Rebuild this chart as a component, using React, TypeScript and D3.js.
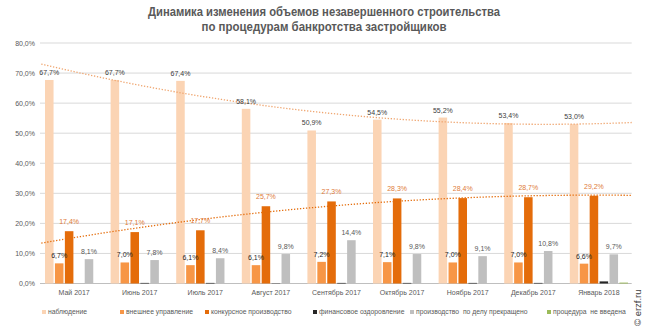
import React from 'react';
import * as d3 from 'd3';

const categories = ['Май 2017', 'Июнь 2017', 'Июль 2017', 'Август 2017', 'Сентябрь 2017', 'Октябрь 2017', 'Ноябрь 2017', 'Декабрь 2017', 'Январь 2018'];
const seriesNames = ['наблюдение', 'внешнее управление', 'конкурсное производство', 'финансовое оздоровление', 'производство  по делу прекращено', 'процедура  не введена'];
const nablyudenie = [67.7, 67.7, 67.4, 58.1, 50.9, 54.5, 55.2, 53.4, 53.0];
const vneshnee = [6.7, 7.0, 6.1, 6.1, 7.2, 7.1, 7.0, 7.0, 6.6];
const konkursnoe = [17.4, 17.1, 17.7, 25.7, 27.3, 28.3, 28.4, 28.7, 29.2];
const finansovoe = [0, 0.2, 0.2, 0.1, 0.2, 0.2, 0.2, 0.2, 0.7];
const prekrascheno = [8.1, 7.8, 8.4, 9.8, 14.4, 9.8, 9.1, 10.8, 9.7];
const neVvedena = [0, 0, 0, 0, 0, 0, 0, 0, 0.3];
const yTicks = [0, 10, 20, 30, 40, 50, 60, 70, 80];

const colors = ['#FBD4B4', '#F79646', '#E46C0A', '#262626', '#BFBFBF', '#9BBB59'];
const labelColors = ['#404040', '#262626', '#E07B39', null, '#595959', null];
const labelGap = [5, 5, 7, 0, 5, 0];
const legendX = [42, 120, 205, 313, 410, 547];

const W = 647, H = 332;
const FONT = '"Liberation Sans", Arial, sans-serif';

function quadFit(ys: number[]) {
  const n = ys.length;
  const xs = ys.map((_, i) => i);
  const s = (f: (x: number, y: number) => number) => d3.sum(xs, (x, i) => f(x, ys[i]));
  const S0 = n, S1 = s(x => x), S2 = s(x => x * x), S3 = s(x => x ** 3), S4 = s(x => x ** 4);
  const T0 = s((x, y) => y), T1 = s((x, y) => x * y), T2 = s((x, y) => x * x * y);
  const det = (m: number[][]) =>
    m[0][0] * (m[1][1] * m[2][2] - m[1][2] * m[2][1]) -
    m[0][1] * (m[1][0] * m[2][2] - m[1][2] * m[2][0]) +
    m[0][2] * (m[1][0] * m[2][1] - m[1][1] * m[2][0]);
  const M = [[S0, S1, S2], [S1, S2, S3], [S2, S3, S4]];
  const T = [T0, T1, T2];
  const D = det(M);
  const rep = (col: number) => M.map((r, i) => r.map((v, j) => (j === col ? T[i] : v)));
  const a = det(rep(0)) / D, b = det(rep(1)) / D, c = det(rep(2)) / D;
  return (x: number) => a + b * x + c * x * x;
}

export default function App() {
  const series = [nablyudenie, vneshnee, konkursnoe, finansovoe, prekrascheno, neVvedena];
  const x0 = d3.scaleBand<string>().domain(categories).range([41.3, 631.7]).paddingInner(0.113).paddingOuter(0.0565);
  const x1 = d3.scaleBand<number>().domain(d3.range(6)).range([0, x0.bandwidth()]).paddingInner(0.14);
  const y = d3.scaleLinear().domain([0, 80]).range([283.5, 43]);
  const fmt = (v: number) => v.toFixed(1).replace('.', ',') + '%';
  const center = (i: number) => x0(categories[0])! + x0.bandwidth() / 2 + i * x0.step();

  const trendPts = d3.range(-0.5, 8.5001, 0.05);
  const line = d3.line<[number, number]>().x(d => d[0]).y(d => d[1]);
  const fitA = quadFit(nablyudenie);
  const fitB = quadFit(konkursnoe);
  const pathA = line(trendPts.map(t => [center(t), y(fitA(t))]));
  const pathB = line(trendPts.map(t => [center(t), y(fitB(t))]));

  return (
    <svg width={W} height={H} style={{ position: 'absolute', left: 0, top: 0, background: '#fff' }} fontFamily={FONT}>
      <rect width={W} height={H} fill="#fff" />
      <text x={324} y={16} textAnchor="middle" fontSize={12} fontWeight="bold" fill="#595959" textLength={352} lengthAdjust="spacingAndGlyphs">Динамика изменения объемов незавершенного строительства</text>
      <text x={324} y={31} textAnchor="middle" fontSize={12} fontWeight="bold" fill="#595959" textLength={245} lengthAdjust="spacingAndGlyphs">по процедурам банкротства застройщиков</text>

      {yTicks.map(t => (
        <g key={t}>
          <line x1={40} x2={631.7} y1={y(t)} y2={y(t)} stroke={t === 0 ? '#BFBFBF' : '#D9D9D9'} strokeWidth={1} />
          <text x={35} y={y(t) + 2.5} textAnchor="end" fontSize={7} fill="#595959">{fmt(t)}</text>
        </g>
      ))}

      {categories.map((c, ci) => (
        <g key={c} transform={`translate(${x0(c)},0)`}>
          {series.map((s, si) => (
            <rect key={si} x={x1(si)} width={x1.bandwidth()} y={y(s[ci])} height={y(0) - y(s[ci])} fill={colors[si]} />
          ))}
          <text x={x0.bandwidth() / 2} y={295} textAnchor="middle" fontSize={7} fill="#595959">{c}</text>
        </g>
      ))}

      <path d={pathA!} fill="none" stroke="#EFA56F" strokeWidth={1.3} strokeDasharray="1.3,1.7" />
      <path d={pathB!} fill="none" stroke="#E46C0A" strokeWidth={1.3} strokeDasharray="1.3,1.7" />

      {categories.map((c, ci) => (
        <g key={c + 'l'} transform={`translate(${x0(c)},0)`}>
          {series.map((s, si) => labelColors[si] ? (
            <text key={si} x={x1(si)! + x1.bandwidth() / 2} y={y(s[ci]) - labelGap[si]} textAnchor="middle" fontSize={7} fill={labelColors[si]!}>{fmt(s[ci])}</text>
          ) : null)}
        </g>
      ))}

      {seriesNames.map((n, i) => (
        <g key={n} transform={`translate(${legendX[i]},0)`}>
          <rect x={0} y={310} width={4} height={4} fill={colors[i]} />
          <text x={6} y={314} fontSize={6.8} fill="#595959" style={{ whiteSpace: 'pre' }}>{n}</text>
        </g>
      ))}

      <text transform="translate(641,326) rotate(-90)" fontSize={9.5} fill="#404040">© erzf.ru</text>
    </svg>
  );
}
